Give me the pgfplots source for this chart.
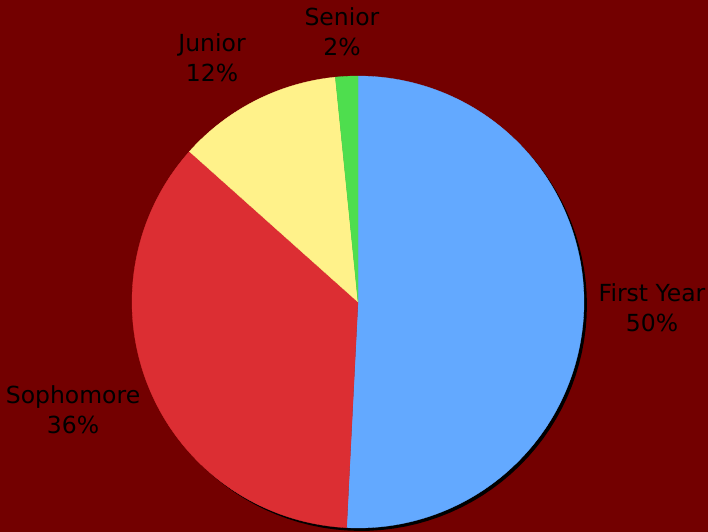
\documentclass[border=0pt]{standalone}
\usepackage{pgfplots}
\usepackage{pgfplotstable}
\usepackage{fontspec}
\setmainfont{DejaVu Sans}
\pgfplotsset{compat=1.18}

\definecolor{bgred}{HTML}{730000}
\definecolor{cFirst}{HTML}{63A9FF}
\definecolor{cSoph}{HTML}{DC2E33}
\definecolor{cJun}{HTML}{FFF28A}
\definecolor{cSen}{HTML}{4EDE4E}

% share of each class, in percent
\pgfplotstableread{
value
50.8
35.8
11.8
1.6
}\piedata

\begin{document}
\begin{tikzpicture}
\path[use as bounding box] (0,0) rectangle (708bp,532bp);
\clip (0,0) rectangle (708bp,532bp);
\fill[bgred] (0,0) rectangle (708bp,532bp);

% slice boundaries, clockwise from the top
\pgfplotstablegetelem{0}{value}\of\piedata \let\vA\pgfplotsretval
\pgfplotstablegetelem{1}{value}\of\piedata \let\vB\pgfplotsretval
\pgfplotstablegetelem{2}{value}\of\piedata \let\vC\pgfplotsretval
\pgfplotstablegetelem{3}{value}\of\piedata \let\vD\pgfplotsretval
\pgfmathsetmacro\aA{90}
\pgfmathsetmacro\aB{\aA-3.6*\vA}
\pgfmathsetmacro\aC{\aB-3.6*\vB}
\pgfmathsetmacro\aD{\aC-3.6*\vC}
\pgfmathsetmacro\aE{\aD-3.6*\vD}

\begin{axis}[
  at={(0,0)}, anchor=south west,
  width=708bp, height=532bp, scale only axis,
  xmin=-1.5841, xmax=1.5487, ymin=-1.0177, ymax=1.3363,
  hide axis, clip=false,
  samples=120, variable=\t,
]
% shadow
\addplot[fill=black, draw=none, domain=0:360]
  ({cos(\t)+0.013},{sin(\t)-0.013}) -- cycle;
\addplot[fill=cFirst, draw=cFirst, line width=0.3pt, domain=\aB:\aA]
  ({cos(\t)},{sin(\t)}) -- (axis cs:0,0) -- cycle;
\addplot[fill=cSoph, draw=cSoph, line width=0.3pt, domain=\aC:\aB]
  ({cos(\t)},{sin(\t)}) -- (axis cs:0,0) -- cycle;
\addplot[fill=cJun, draw=cJun, line width=0.3pt, domain=\aD:\aC]
  ({cos(\t)},{sin(\t)}) -- (axis cs:0,0) -- cycle;
\addplot[fill=cSen, draw=cSen, line width=0.3pt, domain=\aE:\aD, samples=10]
  ({cos(\t)},{sin(\t)}) -- (axis cs:0,0) -- cycle;

\begin{scope}[every node/.style={align=center, font=\fontsize{23.5bp}{30bp}\selectfont, text=black}]
\node at (axis cs:1.301,-0.027) {First Year\\50\%};
\node at (axis cs:-1.261,-0.478) {Sophomore\\36\%};
\node at (axis cs:-0.646,1.080) {Junior\\12\%};
\node at (axis cs:-0.071,1.195) {Senior\\2\%};
\end{scope}
\end{axis}
\end{tikzpicture}
\end{document}
